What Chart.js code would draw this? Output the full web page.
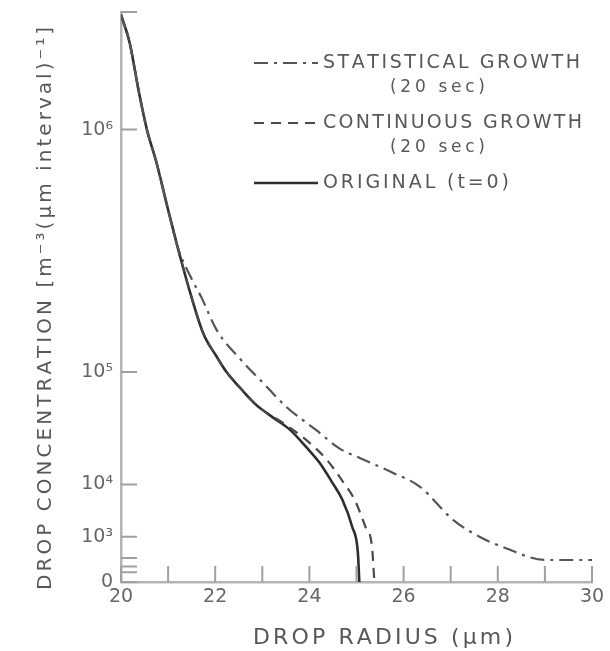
<!DOCTYPE html>
<html>
<head>
<meta charset="utf-8">
<script src="https://cdn.jsdelivr.net/npm/chart.js@4.4.1/dist/chart.umd.min.js"></script>
<style>
  html, body { margin: 0; padding: 0; background: #fff; }
</style>
</head>
<body>
<canvas id="myChart" width="610" height="651"></canvas>
<script>
// drop radius (µm) and concentration (m^-3 (µm interval)^-1)
const origRadius = [20.00, 20.18, 20.38, 20.55, 20.75, 21.00, 21.20, 21.45, 21.75, 22.02, 22.24, 22.53, 22.87, 23.23, 23.59, 23.93, 24.22, 24.49, 24.70, 24.91, 25.03, 25.06];
const origConc   = [1.97e6, 1.70e6, 1.27e6, 1.0e6, 8.0e5, 5.57e5, 4.07e5, 2.7e5, 1.65e5, 1.25e5, 1.0e5, 7.9e4, 6.0e4, 4.8e4, 3.8e4, 2.66e4, 1.82e4, 1.05e4, 6.0e3, 1.8e3, 2.6e2, 0];

const contRadius = [20.00, 20.18, 20.38, 20.55, 20.75, 21.00, 21.20, 21.45, 21.75, 22.02, 22.24, 22.53, 22.87, 23.50, 23.93, 24.37, 24.73, 24.96, 25.19, 25.33, 25.38];
const contConc   = [1.97e6, 1.70e6, 1.27e6, 1.0e6, 8.0e5, 5.57e5, 4.07e5, 2.7e5, 1.65e5, 1.25e5, 1.0e5, 7.9e4, 6.0e4, 4.19e4, 3.1e4, 1.97e4, 1.05e4, 6.0e3, 1.8e3, 4.6e2, 0];

const statRadius = [20.00, 20.18, 20.38, 20.55, 20.75, 21.00, 21.20, 21.51, 21.70, 22.03, 22.54, 23.02, 23.51, 24.14, 24.65, 25.07, 25.78, 26.35, 27.05, 27.62, 28.11, 29.02, 30.00];
const statConc   = [1.97e6, 1.70e6, 1.27e6, 1.0e6, 8.0e5, 5.57e5, 4.07e5, 2.98e5, 2.51e5, 1.73e5, 1.19e5, 8.5e4, 5.8e4, 3.8e4, 2.55e4, 2.06e4, 1.40e4, 9.3e3, 2.6e3, 9.9e2, 4.6e2, 1.15e2, 1.15e2];

const xTicks = [20, 21, 22, 23, 24, 25, 26, 27, 28, 29, 30];
const xTickLabels = ['20', null, '22', null, '24', null, '26', null, '28', null, '30'];
const yTicks = [0, 10, 40, 150, 1e3, 1e4, 1e5, 1e6, 2e6];
const yTickLabels = ['0', null, null, null, '10³', '10⁴', '10⁵', '10⁶', null];

const legendLines = [
  ['STATISTICAL GROWTH', '(20 sec)'],
  ['CONTINUOUS GROWTH', '(20 sec)'],
  ['ORIGINAL (t=0)']
];
const xTitle = 'DROP RADIUS (µm)';
const yTitle = 'DROP CONCENTRATION [m⁻³(µm interval)⁻¹]';

// the y axis of the figure is a cube-root axis
const toAxis = v => Math.cbrt(v);
const points = (rs, cs) => rs.map((r, i) => ({ x: r, y: toAxis(cs[i]) }));

const FONT = '"DejaVu Sans", sans-serif';
const INK = '#585858';

function drawSpaced(ctx, text, left, y, width) {
  const chars = [...text];
  const widths = chars.map(c => ctx.measureText(c).width);
  const total = widths.reduce((s, w) => s + w, 0);
  const gap = chars.length > 1 ? (width - total) / (chars.length - 1) : 0;
  let cx = left;
  ctx.textAlign = 'left';
  chars.forEach((c, i) => {
    ctx.fillText(c, cx, y);
    cx += widths[i] + gap;
  });
}

const inkPlugin = {
  id: 'ink',
  afterDraw(chart) {
    const { ctx, chartArea: a, scales: { x, y } } = chart;
    ctx.save();

    // inward ticks
    ctx.strokeStyle = '#a0a0a0';
    ctx.lineWidth = 2;
    ctx.beginPath();
    xTicks.forEach(t => {
      const px = x.getPixelForValue(t);
      ctx.moveTo(px, a.bottom);
      ctx.lineTo(px, a.bottom - 16);
    });
    yTicks.forEach(t => {
      const py = y.getPixelForValue(toAxis(t));
      ctx.moveTo(a.left, py);
      ctx.lineTo(a.left + 16, py);
    });
    ctx.stroke();

    // axis titles
    ctx.fillStyle = INK;
    ctx.textBaseline = 'middle';
    ctx.font = '22px ' + FONT;
    drawSpaced(ctx, xTitle, 253, 638, 260);

    ctx.save();
    ctx.translate(46, 590);
    ctx.rotate(-Math.PI / 2);
    ctx.font = '20px ' + FONT;
    drawSpaced(ctx, yTitle, 0, 0, 563);
    ctx.restore();

    // legend
    const rows = [[63, 88], [123, 148], [183]];
    const firstWidths = [257, 259, 186];
    chart.data.datasets.forEach((ds, i) => {
      const ry = rows[i][0];
      ctx.strokeStyle = ds.borderColor;
      ctx.lineWidth = ds.borderWidth;
      ctx.setLineDash(ds.borderDash || []);
      ctx.beginPath();
      ctx.moveTo(254, ry);
      ctx.lineTo(318, ry);
      ctx.stroke();
      ctx.setLineDash([]);
      ctx.fillStyle = INK;
      ctx.font = '19px ' + FONT;
      drawSpaced(ctx, legendLines[i][0], 323, ry, firstWidths[i]);
      if (legendLines[i][1]) {
        ctx.font = '17px ' + FONT;
        drawSpaced(ctx, legendLines[i][1], 390, rows[i][1], 95);
      }
    });

    ctx.restore();
  }
};

const ctx = document.getElementById('myChart').getContext('2d');
new Chart(ctx, {
  type: 'line',
  data: {
    datasets: [
      {
        label: legendLines[0].join(' '),
        data: points(statRadius, statConc),
        borderColor: '#555555',
        borderWidth: 2.2,
        borderDash: [14, 6, 3, 6]
      },
      {
        label: legendLines[1].join(' '),
        data: points(contRadius, contConc),
        borderColor: '#4a4a4a',
        borderWidth: 2.2,
        borderDash: [10, 7]
      },
      {
        label: legendLines[2].join(' '),
        data: points(origRadius, origConc),
        borderColor: '#2e2e2e',
        borderWidth: 2.6
      }
    ]
  },
  options: {
    responsive: false,
    animation: false,
    layout: { padding: { top: 12, right: 18, left: 0, bottom: 0 } },
    elements: {
      point: { radius: 0 },
      line: { cubicInterpolationMode: 'monotone', fill: false }
    },
    plugins: {
      legend: { display: false },
      tooltip: { enabled: false }
    },
    scales: {
      x: {
        type: 'linear',
        min: 20,
        max: 30,
        afterFit: scale => { scale.height = 69; },
        afterBuildTicks: scale => { scale.ticks = xTicks.map(v => ({ value: v })); },
        grid: { display: true, drawOnChartArea: false, drawTicks: false },
        border: { display: true, color: '#b4b4b4', width: 2.5 },
        ticks: {
          autoSkip: false,
          maxRotation: 0,
          padding: 4,
          color: '#666',
          font: { family: FONT, size: 19 },
          callback: (v, i) => xTickLabels[i]
        }
      },
      y: {
        type: 'linear',
        min: 0,
        max: toAxis(yTicks[yTicks.length - 1]),
        afterFit: scale => { scale.width = 121; scale.paddingTop = 0; scale.paddingBottom = 0; },
        afterBuildTicks: scale => { scale.ticks = yTicks.map(v => ({ value: toAxis(v) })); },
        grid: { display: true, drawOnChartArea: false, drawTicks: false },
        border: { display: true, color: '#b4b4b4', width: 2.5 },
        ticks: {
          autoSkip: false,
          padding: 8,
          color: '#666',
          font: { family: FONT, size: 19 },
          callback: (v, i) => yTickLabels[i]
        }
      }
    }
  },
  plugins: [inkPlugin]
});
</script>
</body>
</html>
